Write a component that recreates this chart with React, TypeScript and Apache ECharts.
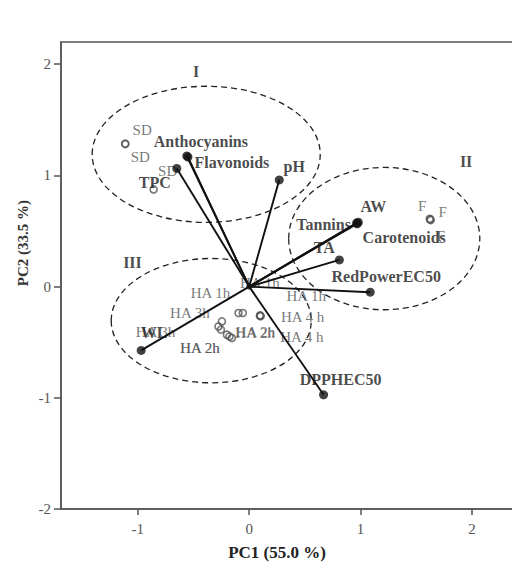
import React, { useEffect, useRef } from "react";
import * as echarts from "echarts";

// ---- data ----
const vectorNames = ["Anthocyanins", "Flavonoids", "TPC", "pH", "AW", "Tannins", "Carotenoids", "TA", "RedPowerEC50", "DPPHEC50", "WL"];
const vectorX = [-0.56, -0.55, -0.65, 0.27, 0.98, 0.965, 0.97, 0.81, 1.087, 0.668, -0.97];
const vectorY = [1.175, 1.165, 1.063, 0.96, 0.58, 0.572, 0.565, 0.24, -0.05, -0.973, -0.574];

const sampleNames = ["SD", "SD", "SD", "F", "F", "F", "HA 1h", "HA 1h", "HA 1h", "HA 4 h", "HA 4 h", "HA 3h", "HA 3h", "HA 2h", "HA 2h", "HA 2h", "HA 2h"];
const sampleX = [-1.114, -1.112, -0.858, 1.626, 1.63, 1.622, -0.096, -0.057, 0.099, 0.103, 0.096, -0.245, -0.276, -0.254, -0.2, -0.177, -0.155];
const sampleY = [1.286, 1.282, 0.874, 0.604, 0.598, 0.61, -0.237, -0.237, -0.259, -0.266, -0.262, -0.313, -0.358, -0.387, -0.432, -0.448, -0.462];

const groupNames = ["I", "II", "III"];
const groupX = [-0.476, 1.948, -1.048];
const groupY = [1.937, 1.129, 0.219];

const ellipseCX = [-0.386, 1.213, -0.341];
const ellipseCY = [1.19, 0.432, -0.306];
const ellipseRX = [1.024, 0.858, 0.898];
const ellipseRY = [0.612, 0.64, 0.559];

const xTicks = [-1, 0, 1, 2];
const xMin = -1.69;
const xMax = 2.45;
const yMin = -2;
const yMax = 2.2;

// ---- label layout (pixel offsets from the point) ----
const vectorLabelOffsets = [
  [14, -14], [44, 5], [-22, 14], [15, -13], [15, -16], [-33, 1], [47, 14], [-15, -12], [16, -16], [17, -15], [13, -18],
];
const sampleLabelOffsets = [
  [17, -14], [15, 13], [14, -18],
  [-8, -13], [12, -8], [11, 17],
  [-28, -20], [17, -30], [46, -19], [42, 1], [42, 21],
  [-32, -8], [-63, 6], [34, 3], [-27, 13], [26, -4], [-32, 10],
];

const SERIF = "'Liberation Serif', 'Times New Roman', serif";
const SAMPLE_COLOR = "#555555";

export default function App() {
  const ref = useRef<HTMLDivElement>(null);
  useEffect(() => {
    if (!ref.current) return;
    const chart = echarts.init(ref.current, undefined, { renderer: "svg" });

    const vectorLines = vectorNames.map((n, i) => ({
      type: "line",
      name: n,
      data: [[0, 0], [vectorX[i], vectorY[i]]],
      showSymbol: false,
      symbol: "none",
      lineStyle: { color: "#111", width: 1.9 },
      z: 3,
      silent: true,
    }));

    const sampleLabelBase = {
      show: true,
      position: "inside",
      color: SAMPLE_COLOR,
      textBorderWidth: 0,
      textBorderColor: "transparent",
      fontFamily: SERIF,
      fontSize: 15,
    };
    const vectorLabelBase = {
      show: true,
      position: "inside",
      color: "#1a1a1a",
      textBorderWidth: 0,
      textBorderColor: "transparent",
      fontFamily: SERIF,
      fontWeight: "bold",
      fontSize: 16,
    };

    const option: any = {
      animation: false,
      grid: {
        left: 61,
        top: 42,
        bottom: 54,
        right: 0,
        show: true,
        borderColor: "#555",
        borderWidth: 1.5,
      },
      xAxis: {
        type: "value",
        min: xMin,
        max: xMax,
        axisLine: { show: true, onZero: false, lineStyle: { color: "#555", width: 1.5 } },
        axisTick: { show: true, length: 6, customValues: xTicks, lineStyle: { color: "#555", width: 1.5 } },
        axisLabel: {
          customValues: xTicks,
          color: "#555",
          fontFamily: SERIF,
          fontSize: 15,
          margin: 12,
        },
        splitLine: { show: false },
      },
      yAxis: {
        type: "value",
        min: yMin,
        max: yMax,
        interval: 1,
        axisLine: { show: true, onZero: false, lineStyle: { color: "#555", width: 1.5 } },
        axisTick: { show: true, length: 7, lineStyle: { color: "#555", width: 1.5 } },
        axisLabel: {
          color: "#555",
          fontFamily: SERIF,
          fontSize: 15,
          margin: 10,
          showMaxLabel: false,
          formatter: (v: number) => (v > 2.01 ? "" : String(v)),
        },
        splitLine: { show: false },
      },
      graphic: [
        {
          type: "text",
          x: 277,
          y: 552,
          style: {
            text: "PC1 (55.0 %)",
            font: `bold 17px ${SERIF}`,
            fill: "#222",
            align: "center",
            verticalAlign: "middle",
          },
        },
        {
          type: "text",
          x: 23,
          y: 243,
          rotation: Math.PI / 2,
          style: {
            text: "PC2 (33.5 %)",
            font: `bold 15px ${SERIF}`,
            fill: "#333",
            align: "center",
            verticalAlign: "middle",
          },
        },
      ],
      series: [
        {
          type: "custom",
          silent: true,
          z: 1,
          data: ellipseCX.map((cx, i) => [cx, ellipseCY[i], ellipseRX[i], ellipseRY[i]]),
          encode: { x: 0, y: 1 },
          renderItem: (params: any, api: any) => {
            const c = api.coord([api.value(0), api.value(1)]);
            const s = api.size([api.value(2), api.value(3)]);
            return {
              type: "ellipse",
              shape: { cx: c[0], cy: c[1], rx: s[0], ry: s[1] },
              style: { fill: "none", stroke: "#222", lineWidth: 1.3, lineDash: [6, 4] },
            };
          },
        },
        ...vectorLines,
        {
          type: "scatter",
          name: "origin",
          data: [[0, 0]],
          symbol: "circle",
          symbolSize: 6,
          itemStyle: { color: "#111" },
          z: 4,
          silent: true,
        },
        {
          type: "scatter",
          name: "samples",
          z: 2,
          silent: true,
          data: sampleNames.map((n, i) => ({
            name: n,
            value: [sampleX[i], sampleY[i]],
            label: { ...sampleLabelBase, formatter: n, offset: sampleLabelOffsets[i] },
          })),
          symbol: "circle",
          symbolSize: 7,
          itemStyle: { color: "rgba(255,255,255,0)", borderColor: SAMPLE_COLOR, borderWidth: 1.6 },
          label: sampleLabelBase,
        },
        {
          type: "scatter",
          name: "vectors",
          z: 5,
          silent: true,
          data: vectorNames.map((n, i) => ({
            name: n,
            value: [vectorX[i], vectorY[i]],
            label: { ...vectorLabelBase, formatter: n, offset: vectorLabelOffsets[i] },
          })),
          symbol: "circle",
          symbolSize: 9,
          itemStyle: { color: "#111" },
          label: vectorLabelBase,
        },
        {
          type: "scatter",
          name: "groups",
          z: 5,
          silent: true,
          data: groupNames.map((n, i) => ({
            name: n,
            value: [groupX[i], groupY[i]],
            label: { ...vectorLabelBase, formatter: n },
          })),
          symbolSize: 0,
          itemStyle: { color: "rgba(0,0,0,0)" },
          label: vectorLabelBase,
        },
      ],
    };
    chart.setOption(option);
    return () => chart.dispose();
  }, []);

  return (
    <div style={{ position: "fixed", left: 0, top: 0, width: 512, height: 563, overflow: "hidden", background: "#fff" }}>
      <div ref={ref} style={{ width: 522, height: 563 }} />
    </div>
  );
}
